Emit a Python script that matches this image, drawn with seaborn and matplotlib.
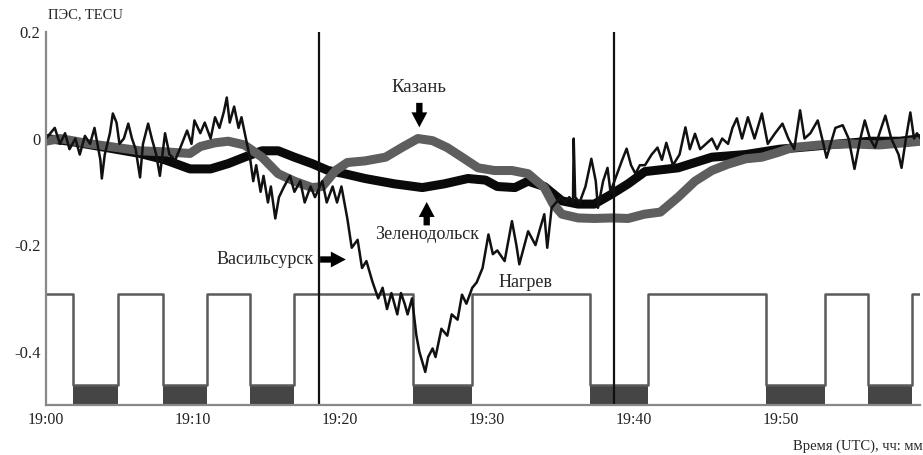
import numpy as np
import pandas as pd
import matplotlib
matplotlib.use("Agg")
import matplotlib.pyplot as plt
import seaborn as sns

# ---- data (minutes after 19:00, TEC in TECU) ----
vas_t = [0.0, 0.6, 0.95, 1.3, 1.6, 2.0, 2.3, 2.65, 3.0, 3.3, 3.7, 3.8, 4.0, 4.35, 4.55, 4.8, 5.0, 5.3, 5.6, 5.85,
         6.1, 6.4, 6.6, 6.95, 7.2, 7.5, 7.75, 8.1, 8.4, 8.8, 9.1, 9.6, 9.9, 10.1, 10.5, 10.8, 11.2, 11.5, 11.8, 12.1,
         12.3, 12.5, 12.8, 13.1, 13.3, 13.6, 13.9, 14.1, 14.3, 14.6, 14.8, 15.1, 15.3, 15.6, 15.85, 16.2, 16.6, 16.9,
         17.3, 17.6, 18.0, 18.3, 18.8, 19.1, 19.5, 19.8, 20.1, 20.5, 20.8, 21.2, 21.5, 21.8, 22.2, 22.6, 22.9, 23.2,
         23.5, 23.9, 24.15, 24.4, 24.6, 24.9, 25.2, 25.4, 25.8, 26.0, 26.3, 26.5, 26.9, 27.3, 27.6, 28.0, 28.3, 28.6,
         29.0, 29.3, 29.7, 30.1, 30.4, 30.7, 31.2, 31.7, 32.0, 32.2, 32.8, 33.3, 33.6, 33.9, 34.1, 34.4, 34.7, 35.0,
         35.3, 35.6, 35.85, 35.9, 36.0, 36.3, 36.7, 37.1, 37.4, 37.55, 37.9, 38.2, 38.4, 38.8, 39.2, 39.5, 39.8, 40.1,
         40.4, 40.75, 41.2, 41.6, 41.9, 42.2, 42.65, 43.1, 43.5, 43.8, 44.15, 44.5, 44.9, 45.3, 45.65, 46.0, 46.4,
         46.7, 47.0, 47.35, 47.75, 48.2, 48.7, 49.1, 49.6, 50.1, 50.5, 50.9, 51.3, 51.6, 52.0, 52.5, 52.8, 53.1,
         53.7, 54.2, 54.6, 55.0, 55.4, 55.7, 56.05, 56.4, 56.7, 57.1, 57.5, 58.0, 58.2, 58.5, 58.8, 59.05, 59.25, 59.5]
vas_v = [0.0, 0.02, -0.01, 0.01, -0.02, 0.0, -0.03, 0.005, -0.01, 0.02, -0.04, -0.075, -0.03, 0.01, 0.047, 0.03,
         -0.01, 0.0, 0.028, 0.0, -0.02, -0.073, -0.01, 0.028, 0.0, -0.03, -0.07, 0.01, -0.03, -0.04, -0.02, 0.015,
         -0.01, 0.034, 0.01, 0.03, 0.0, 0.04, 0.02, 0.05, 0.077, 0.03, 0.06, 0.02, 0.04, 0.0, -0.04, -0.08, -0.05,
         -0.10, -0.07, -0.12, -0.09, -0.15, -0.11, -0.09, -0.07, -0.10, -0.08, -0.12, -0.09, -0.11, -0.08, -0.12,
         -0.09, -0.12, -0.09, -0.15, -0.205, -0.19, -0.243, -0.23, -0.268, -0.30, -0.28, -0.32, -0.29, -0.33, -0.29,
         -0.31, -0.33, -0.30, -0.37, -0.40, -0.438, -0.41, -0.394, -0.41, -0.357, -0.37, -0.33, -0.34, -0.293, -0.31,
         -0.28, -0.27, -0.243, -0.18, -0.217, -0.21, -0.23, -0.155, -0.20, -0.236, -0.174, -0.20, -0.17, -0.142,
         -0.205, -0.13, -0.12, -0.11, -0.12, -0.11, -0.12, 0.0, -0.11, -0.12, -0.09, -0.038, -0.08, -0.13, -0.08,
         -0.055, -0.10, -0.07, -0.04, -0.019, -0.05, -0.066, -0.05, -0.05, -0.03, -0.017, -0.04, -0.008, -0.05,
         -0.03, 0.021, -0.02, 0.009, -0.02, -0.01, 0.0, -0.02, 0.0, -0.01, 0.02, 0.038, 0.0, 0.04, 0.0, 0.047, -0.01,
         0.01, 0.028, 0.0, -0.02, 0.053, 0.0, 0.01, 0.034, 0.0, -0.036, 0.02, 0.025, 0.0, -0.057, 0.0, 0.034, 0.0,
         -0.017, 0.01, 0.043, 0.0, -0.03, -0.055, 0.0, 0.049, 0.0, 0.01, 0.0]

kaz_t = [0.0, 0.95, 2.0, 3.0, 4.35, 6.4, 8.1, 9.8, 10.5, 11.5, 12.4, 13.5, 14.7, 15.8, 16.9, 18.1, 18.8, 19.7,
         20.5, 21.7, 23.1, 24.2, 25.3, 26.3, 27.3, 28.3, 29.4, 30.5, 31.7, 32.8, 33.9, 34.5, 35.1, 36.2, 37.3,
         38.5, 39.6, 40.7, 41.8, 43.0, 44.15, 45.3, 46.4, 47.6, 48.7, 49.8, 50.75, 52.65, 54.7, 56.7, 58.4, 59.5]
kaz_v = [-0.005, 0.0, -0.005, -0.01, -0.015, -0.023, -0.025, -0.028, -0.015, -0.008, -0.005, -0.012, -0.035,
         -0.066, -0.08, -0.092, -0.09, -0.06, -0.045, -0.042, -0.035, -0.017, 0.0, -0.004, -0.017, -0.035, -0.055,
         -0.06, -0.06, -0.066, -0.092, -0.123, -0.142, -0.149, -0.15, -0.149, -0.15, -0.142, -0.138, -0.11, -0.08,
         -0.06, -0.048, -0.038, -0.035, -0.026, -0.017, -0.012, -0.01, -0.012, -0.008, -0.005]

zel_t = [0.0, 1.6, 3.7, 6.4, 8.1, 9.8, 11.2, 12.4, 13.5, 14.7, 15.8, 16.9, 18.1, 19.2, 20.3, 21.7, 23.7, 25.6,
         27.1, 28.7, 29.9, 30.7, 31.9, 32.8, 33.9, 35.1, 36.2, 37.3, 38.5, 39.6, 40.75, 43.0, 45.3, 47.6, 49.9,
         52.0, 54.0, 56.05, 58.1, 59.5]
zel_v = [0.0, -0.005, -0.015, -0.028, -0.04, -0.057, -0.057, -0.047, -0.035, -0.023, -0.023, -0.035, -0.047,
         -0.06, -0.066, -0.075, -0.085, -0.092, -0.085, -0.075, -0.078, -0.09, -0.092, -0.08, -0.09, -0.117,
         -0.123, -0.123, -0.104, -0.085, -0.062, -0.055, -0.035, -0.03, -0.02, -0.015, -0.01, -0.005, -0.005, 0.0]

# heating schedule: switch times (min) and state after each switch (1 = on)
heat_t = [0.0, 1.85, 4.9, 7.95, 10.95, 13.9, 16.9, 24.95, 29.0, 37.0, 40.95, 49.0, 53.0, 55.9, 58.9, 59.5]
heat_s = [1, 0, 1, 0, 1, 0, 1, 0, 1, 0, 1, 0, 1, 0, 1, 1]
heat_on_level = -0.292
heat_off_level = -0.463

markers_t = [18.57, 38.64]
xticks = [0, 10, 20, 30, 40, 50]
xtick_labels = ["19:00", "19:10", "19:20", "19:30", "19:40", "19:50"]
yticks = [0.2, 0.0, -0.2, -0.4]
ytick_labels = ["0.2", "0", "-0.2", "-0.4"]

# ---- style ----
sns.set_theme(style="white")
plt.rcParams["font.family"] = ["Liberation Serif", "DejaVu Serif"]

fig = plt.figure(figsize=(9.23, 4.55), dpi=100)
ax = fig.add_axes([0.0498, 0.11, 0.947, 0.8197])
ymin, ymax = -0.5, 0.2

# heating signal
heat_df = pd.DataFrame({"t": heat_t,
                        "v": [heat_on_level if s else heat_off_level for s in heat_s]})
sns.lineplot(data=heat_df, x="t", y="v", drawstyle="steps-post", color="#5a5a5a", lw=1.8, ax=ax)
for i in range(len(heat_t) - 1):
    if heat_s[i] == 0:
        ax.fill_between([heat_t[i], heat_t[i + 1]], ymin, heat_off_level, color="#454545", lw=0)

# TEC series
sns.lineplot(x=zel_t, y=zel_v, color="#0a0a0a", lw=6.5, ax=ax)
sns.lineplot(x=kaz_t, y=kaz_v, color="#5e5e5e", lw=6.5, ax=ax)
sns.lineplot(x=vas_t, y=vas_v, color="#111111", lw=1.8, ax=ax)

for t in markers_t:
    ax.axvline(t, color="#111111", lw=1.6)

ax.set_xlim(0, 59.46)
ax.set_ylim(ymin, ymax)
ax.set_xticks(xticks)
ax.set_xticklabels(xtick_labels)
ax.set_yticks(yticks)
ax.set_yticklabels(ytick_labels)
ax.tick_params(axis="x", length=0, labelsize=11.5, pad=5, colors="#222222")
ax.tick_params(axis="y", direction="in", length=6, width=1.2, color="#777777", labelsize=12, pad=4,
               labelcolor="#222222")
for s in ["top", "right"]:
    ax.spines[s].set_visible(False)
for s in ["left", "bottom"]:
    ax.spines[s].set_color("#888888")
    ax.spines[s].set_linewidth(1.6)
ax.set_xlabel("")
ax.set_ylabel("")

arrow = dict(arrowstyle="simple,head_length=0.9,head_width=0.95,tail_width=0.38", color="black", lw=0,
             shrinkA=0, shrinkB=0)
ax.text(25.4, 0.095, "Казань", ha="center", va="center", fontsize=13.5)
ax.annotate("", xy=(25.4, 0.021), xytext=(25.4, 0.067), arrowprops=arrow)
ax.text(25.9, -0.181, "Зеленодольск", ha="center", va="center", fontsize=13)
ax.annotate("", xy=(25.9, -0.119), xytext=(25.9, -0.163), arrowprops=arrow)
ax.text(18.2, -0.227, "Васильсурск", ha="right", va="center", fontsize=13)
ax.annotate("", xy=(20.4, -0.227), xytext=(18.65, -0.227), arrowprops=arrow)
ax.text(32.6, -0.27, "Нагрев", ha="center", va="center", fontsize=13)

fig.text(0.052, 0.967, "ПЭС, TECU", ha="left", va="center", fontsize=10.5)
fig.text(1.0, 0.02, "Время (UTC), чч: мм", ha="right", va="center", fontsize=10.5)

fig.savefig("out.png", dpi=100)
